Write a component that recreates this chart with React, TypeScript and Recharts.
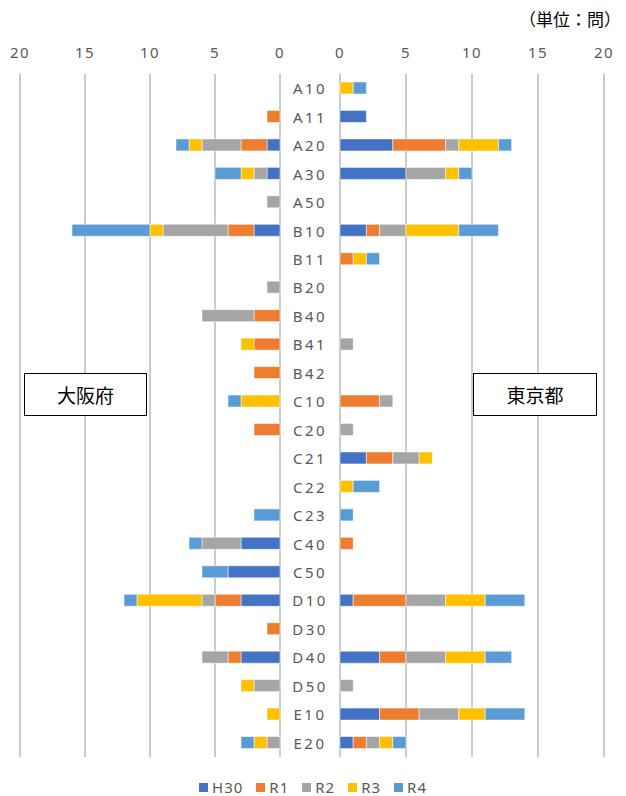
import React from "react";
import { BarChart, Bar, XAxis, YAxis, CartesianGrid } from "recharts";

const categories = [
  "A10", "A11", "A20", "A30", "A50", "B10", "B11", "B20", "B40", "B41", "B42", "C10",
  "C20", "C21", "C22", "C23", "C40", "C50", "D10", "D30", "D40", "D50", "E10", "E20",
];

const seriesNames = ["H30", "R1", "R2", "R3", "R4"];
const seriesColors = ["#4472C4", "#ED7D31", "#A5A5A5", "#FFC000", "#5B9BD5"];

// 大阪府
const osakaH30 = [0, 0, 1, 1, 0, 2, 0, 0, 0, 0, 0, 0, 0, 0, 0, 0, 3, 4, 3, 0, 3, 0, 0, 0];
const osakaR1 = [0, 1, 2, 0, 0, 2, 0, 0, 2, 2, 2, 0, 2, 0, 0, 0, 0, 0, 2, 1, 1, 0, 0, 0];
const osakaR2 = [0, 0, 3, 1, 1, 5, 0, 1, 4, 0, 0, 0, 0, 0, 0, 0, 3, 0, 1, 0, 2, 2, 0, 1];
const osakaR3 = [0, 0, 1, 1, 0, 1, 0, 0, 0, 1, 0, 3, 0, 0, 0, 0, 0, 0, 5, 0, 0, 1, 1, 1];
const osakaR4 = [0, 0, 1, 2, 0, 6, 0, 0, 0, 0, 0, 1, 0, 0, 0, 2, 1, 2, 1, 0, 0, 0, 0, 1];

// 東京都
const tokyoH30 = [0, 2, 4, 5, 0, 2, 0, 0, 0, 0, 0, 0, 0, 2, 0, 0, 0, 0, 1, 0, 3, 0, 3, 1];
const tokyoR1 = [0, 0, 4, 0, 0, 1, 1, 0, 0, 0, 0, 3, 0, 2, 0, 0, 1, 0, 4, 0, 2, 0, 3, 1];
const tokyoR2 = [0, 0, 1, 3, 0, 2, 0, 0, 0, 1, 0, 1, 1, 2, 0, 0, 0, 0, 3, 0, 3, 1, 3, 1];
const tokyoR3 = [1, 0, 3, 1, 0, 4, 1, 0, 0, 0, 0, 0, 0, 1, 1, 0, 0, 0, 3, 0, 3, 0, 2, 1];
const tokyoR4 = [1, 0, 1, 1, 0, 3, 1, 0, 0, 0, 0, 0, 0, 0, 2, 1, 0, 0, 3, 0, 2, 0, 3, 1];

const xTicks = [0, 5, 10, 15, 20];

const build = (cols: number[][]) =>
  categories.map((cat, i) => {
    const row: Record<string, string | number> = { cat };
    seriesNames.forEach((s, j) => (row[s] = cols[j][i]));
    return row;
  });

const osakaData = build([osakaH30, osakaR1, osakaR2, osakaR3, osakaR4]);
const tokyoData = build([tokyoH30, tokyoR1, tokyoR2, tokyoR3, tokyoR4]);

const FONT = "'Noto Sans', 'Noto Sans CJK JP', sans-serif";
const tickStyle = { fill: "#595959", fontSize: 15, fontFamily: FONT, letterSpacing: 1.5 };

const CatTick = (props: any) => {
  const { y, payload } = props;
  return (
    <text
      x={30}
      y={y}
      textAnchor="middle"
      dominantBaseline="central"
      fill="#595959"
      fontSize={15}
      fontFamily={FONT}
      letterSpacing={2.5}
    >
      {payload.value}
    </text>
  );
};

const bars = () =>
  seriesNames.map((s, i) => (
    <Bar
      key={s}
      dataKey={s}
      stackId="a"
      fill={seriesColors[i]}
      stroke="#ffffff"
      strokeWidth={0.5}
      barSize={12}
      isAnimationActive={false}
    />
  ));

const boxStyle: React.CSSProperties = {
  position: "absolute",
  top: 373,
  height: 43,
  border: "1.5px solid #000",
  background: "#fff",
  display: "flex",
  alignItems: "center",
  justifyContent: "center",
  fontFamily: "'Noto Sans CJK JP', sans-serif",
  fontSize: 19,
  color: "#000",
  boxSizing: "border-box",
};

export default function App() {
  return (
    <div style={{ position: "absolute", left: 0, top: 0, width: 626, height: 796, background: "#fff" }}>
      <div style={{ position: "absolute", left: 0, top: 0 }}>
        <BarChart
          width={290}
          height={796}
          layout="vertical"
          data={osakaData}
          margin={{ top: 44, left: 20, right: 10, bottom: 39 }}
        >
          <CartesianGrid horizontal={false} stroke="#bababa" strokeWidth={1.5} />
          <XAxis
            type="number"
            orientation="top"
            domain={[0, 20]}
            ticks={xTicks}
            reversed
            height={30}
            axisLine={false}
            tickLine={false}
            tickSize={0}
            tickMargin={16}
            tick={tickStyle}
            interval={0}
          />
          <YAxis type="category" dataKey="cat" hide />
          {bars()}
        </BarChart>
      </div>
      <div style={{ position: "absolute", left: 280, top: 0 }}>
        <BarChart
          width={346}
          height={796}
          layout="vertical"
          data={tokyoData}
          margin={{ top: 44, left: 10, right: 22, bottom: 39 }}
        >
          <CartesianGrid horizontal={false} stroke="#bababa" strokeWidth={1.5} />
          <XAxis
            type="number"
            orientation="top"
            domain={[0, 20]}
            ticks={xTicks}
            height={30}
            axisLine={false}
            tickLine={false}
            tickSize={0}
            tickMargin={16}
            tick={tickStyle}
            interval={0}
          />
          <YAxis
            type="category"
            dataKey="cat"
            width={50}
            axisLine={false}
            tickLine={false}
            interval={0}
            tick={<CatTick />}
          />
          {bars()}
        </BarChart>
      </div>
      <div
        style={{
          position: "absolute",
          right: 5,
          top: 6,
          fontFamily: "'Noto Sans CJK JP', serif",
          fontSize: 17,
          color: "#000",
        }}
      >
        （単位：問）
      </div>
      <div style={{ ...boxStyle, left: 24, width: 123 }}>大阪府</div>
      <div style={{ ...boxStyle, left: 473, width: 124 }}>東京都</div>
      <div
        style={{
          position: "absolute",
          left: 0,
          width: 626,
          top: 777,
          display: "flex",
          justifyContent: "center",
          gap: 13,
          fontFamily: FONT,
          fontSize: 15,
          color: "#595959",
          letterSpacing: 1,
        }}
      >
        {seriesNames.map((s, i) => (
          <div key={s} style={{ display: "flex", alignItems: "center", gap: 4 }}>
            <span style={{ display: "inline-block", width: 9, height: 9, background: seriesColors[i] }} />
            <span>{s}</span>
          </div>
        ))}
      </div>
    </div>
  );
}
